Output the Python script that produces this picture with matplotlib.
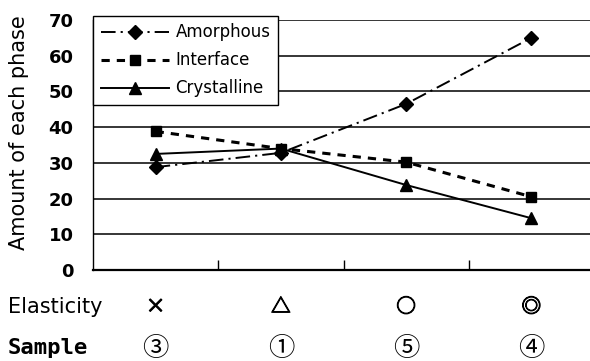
import numpy as np
import matplotlib.pyplot as plt
import matplotlib.patheffects as pe
from matplotlib.transforms import blended_transform_factory

# 各相の量 (サンプル ③ ① ⑤ ④ の順)
elasticity = ["×", "△", "○", "◎"]
samples = ["③", "①", "⑤", "④"]
amorphous = [28.8, 32.8, 46.5, 65.0]
interface = [38.8, 34.0, 30.2, 20.5]
crystalline = [32.5, 34.0, 23.8, 14.5]
yticks = [0, 10, 20, 30, 40, 50, 60, 70]

W, H = 590, 361
fig = plt.figure(figsize=(W / 100, H / 100), dpi=100)
ax = fig.add_axes([93 / W, 1 - 270 / H, 501 / W, 250 / H])

x = np.arange(len(samples))
ax.plot(x, amorphous, color="black", lw=1.4, dashes=(7.5, 2.6, 1.1, 2.6),
        marker="D", ms=7, label="Amorphous")
ax.plot(x, interface, color="black", lw=2.2, dashes=(2.7, 2.3),
        marker="s", ms=7, label="Interface")
ax.plot(x, crystalline, color="black", lw=1.4, ls="-",
        marker="^", ms=8.5, label="Crystalline")

ax.set_xlim(-0.5, len(samples) - 0.5)
ax.set_ylim(0, 70)
ax.set_yticks(yticks)
ax.set_yticklabels([str(v) for v in yticks], fontsize=13, fontweight="bold",
                   family="DejaVu Sans")
ax.yaxis.grid(True, color="black", lw=1.1)
ax.set_axisbelow(True)
ax.tick_params(axis="y", length=0, pad=14)

# x 目盛りはカテゴリ境界に内向き
ax.set_xticks(np.arange(len(samples) - 1) + 0.5)
ax.set_xticklabels([])
ax.tick_params(axis="x", direction="in", length=7, width=1.0, color="black")

for s in ["top", "right"]:
    ax.spines[s].set_visible(False)
ax.spines["left"].set_linewidth(1.0)
ax.spines["bottom"].set_linewidth(1.6)

fig.text(19 / W, 1 - 133 / H, "Amount of each phase", fontsize=15,
         rotation=90, ha="center", va="center", family="DejaVu Sans")

leg = ax.legend(loc="upper left", bbox_to_anchor=(0, 1.016),
                frameon=True, fancybox=False, edgecolor="black",
                handlelength=4.1, handletextpad=0.4, borderpad=0.45,
                borderaxespad=0, labelspacing=0.6,
                prop={"family": "DejaVu Sans", "size": 12})
leg.get_frame().set_linewidth(1.0)
leg.get_frame().set_alpha(1)

# 下の2行: Elasticity と Sample
fig.text(8 / W, 1 - 307 / H, "Elasticity", fontsize=15, va="center",
         family="DejaVu Sans")
fig.text(8 / W, 1 - 348 / H, "Sample", fontsize=16, va="center",
         family="DejaVu Sans Mono", fontweight="bold")
tr = blended_transform_factory(ax.transData, fig.transFigure)
cjk = ["Noto Sans CJK JP", "DejaVu Sans"]
thick = [pe.withStroke(linewidth=0.8, foreground="black")]
for i in range(len(samples)):
    ax.text(x[i], 1 - 307 / H, elasticity[i], transform=tr, ha="center",
            va="center", fontsize=14, family=cjk, path_effects=thick)
    ax.text(x[i], 1 - 348 / H, samples[i], transform=tr, ha="center",
            va="center", fontsize=19, family=cjk)

fig.savefig("out.png", dpi=100)
